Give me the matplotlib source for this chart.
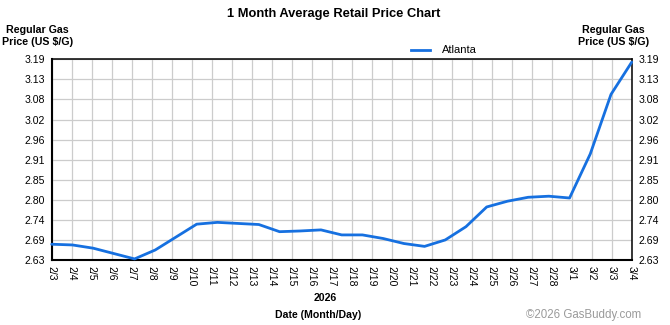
import numpy as np
import matplotlib
matplotlib.use("Agg")
import matplotlib.pyplot as plt
from matplotlib.lines import Line2D

plt.rcParams['font.family'] = ['Liberation Sans', 'DejaVu Sans']

# Day labels shown along the x axis
date_labels = ['2/3', '2/4', '2/5', '2/6', '2/7', '2/8', '2/9', '2/10', '2/11', '2/12',
               '2/13', '2/14', '2/15', '2/16', '2/17', '2/18', '2/19', '2/20', '2/21',
               '2/22', '2/23', '2/24', '2/25', '2/26', '2/27', '2/28', '3/1', '3/2',
               '3/3', '3/4']

# Atlanta average regular gas price (US $/G), sampled evenly across the period
atlanta_prices = [2.674, 2.672, 2.663, 2.648, 2.633, 2.658, 2.694, 2.730, 2.735,
                  2.732, 2.729, 2.709, 2.711, 2.714, 2.700, 2.700, 2.690, 2.676,
                  2.668, 2.686, 2.723, 2.778, 2.794, 2.805, 2.808, 2.803, 2.926,
                  3.092, 3.182]

price_labels = ['2.63', '2.69', '2.74', '2.80', '2.85', '2.91', '2.96', '3.02',
                '3.08', '3.13', '3.19']
price_min, price_max = 2.63, 3.19

series_name = 'Atlanta'
line_color = '#1670E0'

W, H = 670, 325
fig = plt.figure(figsize=(W / 100, H / 100), dpi=100)
fig.patch.set_facecolor('white')

left, right, top, bottom = 51.7, 631.7, 59.3, 260.0
ax = fig.add_axes([left / W, 1 - bottom / H, (right - left) / W, (bottom - top) / H])

n_days = len(date_labels)
xs = np.linspace(0, n_days - 1, len(atlanta_prices))
ax.plot(xs, atlanta_prices, color=line_color, lw=2.0, solid_joinstyle='round',
        solid_capstyle='round', zorder=3, clip_on=False)

ax.set_xlim(0, n_days - 1)
ax.set_ylim(price_min, price_max)
ax.set_xticks(range(n_days))
ax.set_xticklabels(date_labels, rotation=270, fontsize=7.5, va='top', ha='center')
yt = np.linspace(price_min, price_max, len(price_labels))
ax.set_yticks(yt)
ax.set_yticklabels(price_labels, fontsize=7.6)

ax.tick_params(axis='x', length=0, pad=4)
ax.tick_params(axis='y', length=0, pad=5, labelright=True)

ax.grid(True, color='#cccccc', lw=0.9)
ax.set_axisbelow(True)
for s in ax.spines.values():
    s.set_color('black')
    s.set_linewidth(1.1)
ax.spines['bottom'].set_linewidth(1.5)
ax.spines['left'].set_linewidth(1.5)

# Titles and axis captions
fig.text(333.5 / W, 1 - 14 / H, '1 Month Average Retail Price Chart', ha='center',
         va='center', fontsize=9.3, fontweight='bold')
fig.text(37.7 / W, 1 - 36 / H, 'Regular Gas\nPrice (US $/G)', ha='center', va='center',
         fontsize=7.7, fontweight='bold', linespacing=1.3)
fig.text(613.5 / W, 1 - 36 / H, 'Regular Gas\nPrice (US $/G)', ha='center', va='center',
         fontsize=7.7, fontweight='bold', linespacing=1.3)
fig.text(325 / W, 1 - 298 / H, '2026', ha='center', va='center', fontsize=7.6,
         fontweight='bold')
fig.text(318 / W, 1 - 315 / H, 'Date (Month/Day)', ha='center', va='center',
         fontsize=7.6, fontweight='bold')
fig.text(641.5 / W, 1 - 315 / H, '\u00a92026 GasBuddy.com', ha='right', va='center',
         fontsize=8.3, color='#9a9a9a')

# Legend
fig.add_artist(Line2D([411 / W, 430 / W], [1 - 50 / H, 1 - 50 / H], color=line_color,
                      lw=2.0, transform=fig.transFigure))
fig.text(442 / W, 1 - 50 / H, series_name, ha='left', va='center', fontsize=8)

fig.savefig('out.png', dpi=100, facecolor='white')
